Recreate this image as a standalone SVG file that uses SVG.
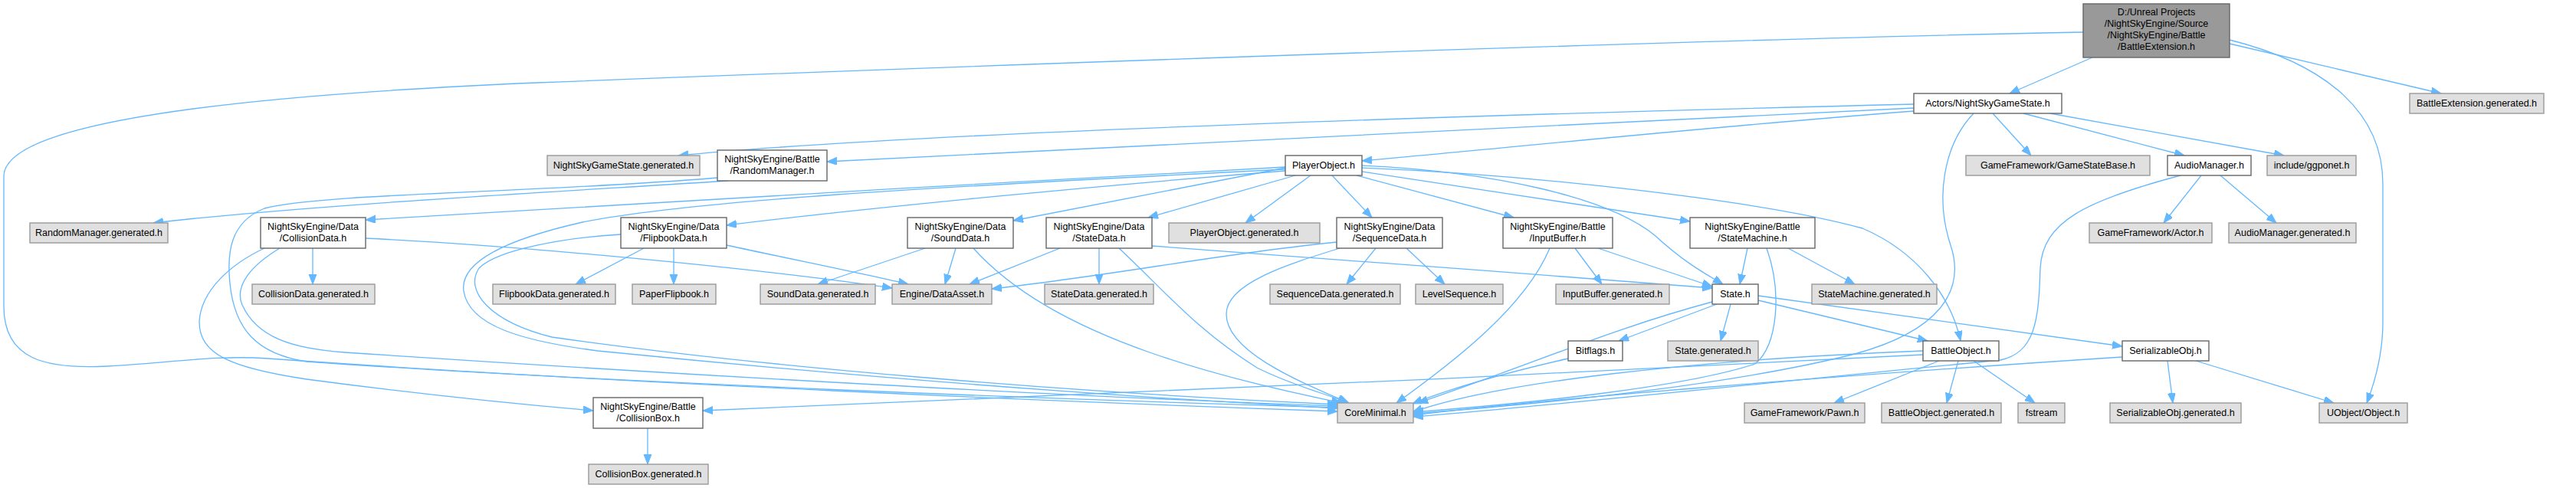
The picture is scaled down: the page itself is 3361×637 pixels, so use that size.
<svg xmlns="http://www.w3.org/2000/svg" width="3361" height="637" viewBox="0 0 3361 637">
<defs>
<marker id="a" markerUnits="userSpaceOnUse" markerWidth="14" markerHeight="12" refX="13" refY="5" orient="auto"><path d="M0,0 L13,5 L0,10 z" fill="#63b8ff" stroke="#63b8ff" stroke-width="1"/></marker>
<style>
.n rect{fill:#ffffff;stroke:#666666;stroke-width:1.4}
.g rect{fill:#e0e0e0;stroke:#999999;stroke-width:1.4}
.r rect{fill:#999999;stroke:#666666;stroke-width:1.4}
text{font-family:"Liberation Sans",Arial,sans-serif;font-size:12.5px;text-anchor:middle;fill:#000000}
#edges path{fill:none;stroke:#63b8ff;stroke-width:1.3;marker-end:url(#a)}
</style>
</defs>
<rect width="3361" height="637" fill="#ffffff"/>
<g id="edges">
<path d="M2730,75 L2622,122"/>
<path d="M2909,57 L3185,122"/>
<path d="M2909,52 C3040,85 3109,150 3109,240 L3109,420 C3109,460 3100,495 3088,526"/>
<path d="M2718,42 C2200,52 1300,85 700,108 C300,125 5,160 5,230 L5,400 C5,470 60,482 140,478 C220,474 280,463 350,468 C800,500 1400,525 1745,537"/>
<path d="M2497,136 C2000,148 1200,172 885,203"/>
<path d="M2497,141 C2100,160 1500,190 1079,211"/>
<path d="M2497,145 C2200,168 1950,195 1777,210"/>
<path d="M2600,148 L2650,203"/>
<path d="M2640,148 L2850,203"/>
<path d="M2675,148 L2980,203"/>
<path d="M2575,148 C2535,190 2525,260 2545,320 C2565,380 2530,432 2420,462 C2250,505 2000,528 1844,540"/>
<path d="M950,236 C700,252 400,268 200,291"/>
<path d="M936,232 C700,252 420,252 345,272 C300,290 296,330 300,370 C306,430 335,462 400,472 C800,500 1400,522 1745,532"/>
<path d="M408,324 L408,371"/>
<path d="M365,324 C330,345 305,372 316,398 C335,440 380,455 450,460 C900,490 1400,518 1745,530"/>
<path d="M345,324 C300,345 262,380 260,420 C260,462 300,480 400,495 C550,515 680,528 774,536"/>
<path d="M477,311 C700,322 1000,352 1164,376"/>
<path d="M840,324 L751,371"/>
<path d="M879,324 L879,371"/>
<path d="M948,320 C1050,342 1130,358 1185,371"/>
<path d="M810,306 C740,310 650,325 625,350 C605,380 640,420 720,440 C1000,480 1400,512 1745,528"/>
<path d="M1207,324 L1067,371"/>
<path d="M1247,324 L1233,371"/>
<path d="M1270,324 C1320,380 1400,425 1500,460 C1600,495 1700,515 1750,526"/>
<path d="M1383,324 L1265,371"/>
<path d="M1434,324 L1434,371"/>
<path d="M1460,324 C1520,380 1560,430 1640,480 C1690,505 1735,515 1758,526"/>
<path d="M1503,321 C1700,335 2000,358 2234,376"/>
<path d="M1744,316 C1600,330 1450,360 1294,377"/>
<path d="M1795,324 L1757,371"/>
<path d="M1835,324 L1885,371"/>
<path d="M1748,324 C1680,345 1600,370 1600,410 C1600,460 1700,500 1760,526"/>
<path d="M2022,324 C1990,400 1900,470 1822,526"/>
<path d="M2055,324 L2090,371"/>
<path d="M2085,324 L2234,374"/>
<path d="M2280,324 L2270,371"/>
<path d="M2333,324 L2420,371"/>
<path d="M2305,324 C2325,380 2320,450 2290,475 C2200,505 2000,526 1844,538"/>
<path d="M2240,397 L2112,445"/>
<path d="M2258,397 L2245,445"/>
<path d="M2294,392 L2515,445"/>
<path d="M2294,386 L2769,452"/>
<path d="M2234,394 C2100,430 2000,475 1850,526"/>
<path d="M2046,468 C1950,490 1880,512 1843,527"/>
<path d="M2509,458 C2200,470 1950,500 1843,538"/>
<path d="M2509,463 C2000,490 1300,522 917,536"/>
<path d="M2530,471 L2393,526"/>
<path d="M2555,471 L2540,526"/>
<path d="M2575,471 L2655,526"/>
<path d="M2828,471 L2835,526"/>
<path d="M2865,471 L3045,526"/>
<path d="M2769,466 C2400,490 2000,522 1844,542"/>
<path d="M2872,229 L2823,291"/>
<path d="M2897,229 L2970,291"/>
<path d="M2845,229 C2720,262 2665,290 2662,350 C2660,420 2655,460 2610,470 C2300,500 2000,532 1844,544"/>
<path d="M1710,229 L1625,291"/>
<path d="M1738,229 L1790,284"/>
<path d="M1770,229 L1975,284"/>
<path d="M1777,224 L2205,289"/>
<path d="M1777,216 C1950,224 2100,258 2160,308 C2200,345 2230,360 2248,371"/>
<path d="M1777,219 C2000,228 2300,262 2430,298 C2500,328 2545,385 2558,445"/>
<path d="M1677,219 L1322,288"/>
<path d="M1690,229 L1498,284"/>
<path d="M1677,223 C1400,245 1100,275 948,294"/>
<path d="M1677,218 C1300,238 800,268 477,287"/>
<path d="M1677,221 C1200,245 900,262 760,290 C650,315 600,345 605,380 C612,425 680,445 780,458 C1200,500 1500,520 1745,533"/>
<path d="M845,559 L845,606"/>
</g>
<g id="n_root" class="r"><rect x="2718" y="5" width="191" height="70"/><text x="2813.5" y="20">D:/Unreal Projects</text><text x="2813.5" y="35">/NightSkyEngine/Source</text><text x="2813.5" y="50">/NightSkyEngine/Battle</text><text x="2813.5" y="65">/BattleExtension.h</text></g>
<g id="n_ngs" class="n"><rect x="2497" y="122" width="193" height="26"/><text x="2593.5" y="139">Actors/NightSkyGameState.h</text></g>
<g id="n_bext" class="g"><rect x="3144" y="122" width="175" height="26"/><text x="3231.5" y="139">BattleExtension.generated.h</text></g>
<g id="n_ngsgen" class="g"><rect x="714" y="203" width="199" height="26"/><text x="813.5" y="220">NightSkyGameState.generated.h</text></g>
<g id="n_rm" class="n"><rect x="936" y="196" width="143" height="40"/><text x="1007.5" y="212">NightSkyEngine/Battle</text><text x="1007.5" y="227">/RandomManager.h</text></g>
<g id="n_po" class="n"><rect x="1677" y="203" width="100" height="26"/><text x="1727" y="220">PlayerObject.h</text></g>
<g id="n_gsb" class="g"><rect x="2565" y="203" width="240" height="26"/><text x="2685" y="220">GameFramework/GameStateBase.h</text></g>
<g id="n_am" class="n"><rect x="2828" y="203" width="109" height="26"/><text x="2882.5" y="220">AudioManager.h</text></g>
<g id="n_ggpo" class="g"><rect x="2958" y="203" width="116" height="26"/><text x="3016" y="220">include/ggponet.h</text></g>
<g id="n_rmgen" class="g"><rect x="39" y="291" width="180" height="26"/><text x="129" y="308">RandomManager.generated.h</text></g>
<g id="n_cd" class="n"><rect x="340" y="284" width="137" height="40"/><text x="408.5" y="300">NightSkyEngine/Data</text><text x="408.5" y="315">/CollisionData.h</text></g>
<g id="n_fd" class="n"><rect x="810" y="284" width="138" height="40"/><text x="879" y="300">NightSkyEngine/Data</text><text x="879" y="315">/FlipbookData.h</text></g>
<g id="n_sd" class="n"><rect x="1184" y="284" width="138" height="40"/><text x="1253" y="300">NightSkyEngine/Data</text><text x="1253" y="315">/SoundData.h</text></g>
<g id="n_std" class="n"><rect x="1365" y="284" width="138" height="40"/><text x="1434" y="300">NightSkyEngine/Data</text><text x="1434" y="315">/StateData.h</text></g>
<g id="n_pogen" class="g"><rect x="1525" y="291" width="197" height="26"/><text x="1623.5" y="308">PlayerObject.generated.h</text></g>
<g id="n_seqd" class="n"><rect x="1744" y="284" width="138" height="40"/><text x="1813" y="300">NightSkyEngine/Data</text><text x="1813" y="315">/SequenceData.h</text></g>
<g id="n_ib" class="n"><rect x="1961" y="284" width="143" height="40"/><text x="2032.5" y="300">NightSkyEngine/Battle</text><text x="2032.5" y="315">/InputBuffer.h</text></g>
<g id="n_sm" class="n"><rect x="2205" y="284" width="163" height="40"/><text x="2286.5" y="300">NightSkyEngine/Battle</text><text x="2286.5" y="315">/StateMachine.h</text></g>
<g id="n_actor" class="g"><rect x="2726" y="291" width="160" height="26"/><text x="2806" y="308">GameFramework/Actor.h</text></g>
<g id="n_amgen" class="g"><rect x="2908" y="291" width="166" height="26"/><text x="2991" y="308">AudioManager.generated.h</text></g>
<g id="n_cdgen" class="g"><rect x="329" y="371" width="160" height="26"/><text x="409" y="388">CollisionData.generated.h</text></g>
<g id="n_fdgen" class="g"><rect x="643" y="371" width="160" height="26"/><text x="723" y="388">FlipbookData.generated.h</text></g>
<g id="n_pf" class="g"><rect x="825" y="371" width="109" height="26"/><text x="879.5" y="388">PaperFlipbook.h</text></g>
<g id="n_sdgen" class="g"><rect x="992" y="371" width="150" height="26"/><text x="1067" y="388">SoundData.generated.h</text></g>
<g id="n_da" class="g"><rect x="1164" y="371" width="130" height="26"/><text x="1229" y="388">Engine/DataAsset.h</text></g>
<g id="n_stdgen" class="g"><rect x="1363" y="371" width="142" height="26"/><text x="1434" y="388">StateData.generated.h</text></g>
<g id="n_seqdgen" class="g"><rect x="1657" y="371" width="170" height="26"/><text x="1742" y="388">SequenceData.generated.h</text></g>
<g id="n_ls" class="g"><rect x="1847" y="371" width="114" height="26"/><text x="1904" y="388">LevelSequence.h</text></g>
<g id="n_ibgen" class="g"><rect x="2030" y="371" width="148" height="26"/><text x="2104" y="388">InputBuffer.generated.h</text></g>
<g id="n_state" class="n"><rect x="2234" y="371" width="60" height="26"/><text x="2264" y="388">State.h</text></g>
<g id="n_smgen" class="g"><rect x="2364" y="371" width="163" height="26"/><text x="2445.5" y="388">StateMachine.generated.h</text></g>
<g id="n_bit" class="n"><rect x="2046" y="445" width="71" height="26"/><text x="2081.5" y="462">Bitflags.h</text></g>
<g id="n_stgen" class="g"><rect x="2176" y="445" width="118" height="26"/><text x="2235" y="462">State.generated.h</text></g>
<g id="n_bo" class="n"><rect x="2509" y="445" width="99" height="26"/><text x="2558.5" y="462">BattleObject.h</text></g>
<g id="n_ser" class="n"><rect x="2769" y="445" width="113" height="26"/><text x="2825.5" y="462">SerializableObj.h</text></g>
<g id="n_core" class="g"><rect x="1745" y="526" width="99" height="26"/><text x="1794.5" y="543">CoreMinimal.h</text></g>
<g id="n_cbox" class="n"><rect x="774" y="519" width="143" height="40"/><text x="845.5" y="535">NightSkyEngine/Battle</text><text x="845.5" y="550">/CollisionBox.h</text></g>
<g id="n_pawn" class="g"><rect x="2276" y="526" width="157" height="26"/><text x="2354.5" y="543">GameFramework/Pawn.h</text></g>
<g id="n_bogen" class="g"><rect x="2455" y="526" width="156" height="26"/><text x="2533" y="543">BattleObject.generated.h</text></g>
<g id="n_fs" class="g"><rect x="2633" y="526" width="61" height="26"/><text x="2663.5" y="543">fstream</text></g>
<g id="n_sergen" class="g"><rect x="2753" y="526" width="171" height="26"/><text x="2838.5" y="543">SerializableObj.generated.h</text></g>
<g id="n_uobj" class="g"><rect x="3026" y="526" width="115" height="26"/><text x="3083.5" y="543">UObject/Object.h</text></g>
<g id="n_cboxgen" class="g"><rect x="768" y="606" width="156" height="26"/><text x="846" y="623">CollisionBox.generated.h</text></g>
</svg>
